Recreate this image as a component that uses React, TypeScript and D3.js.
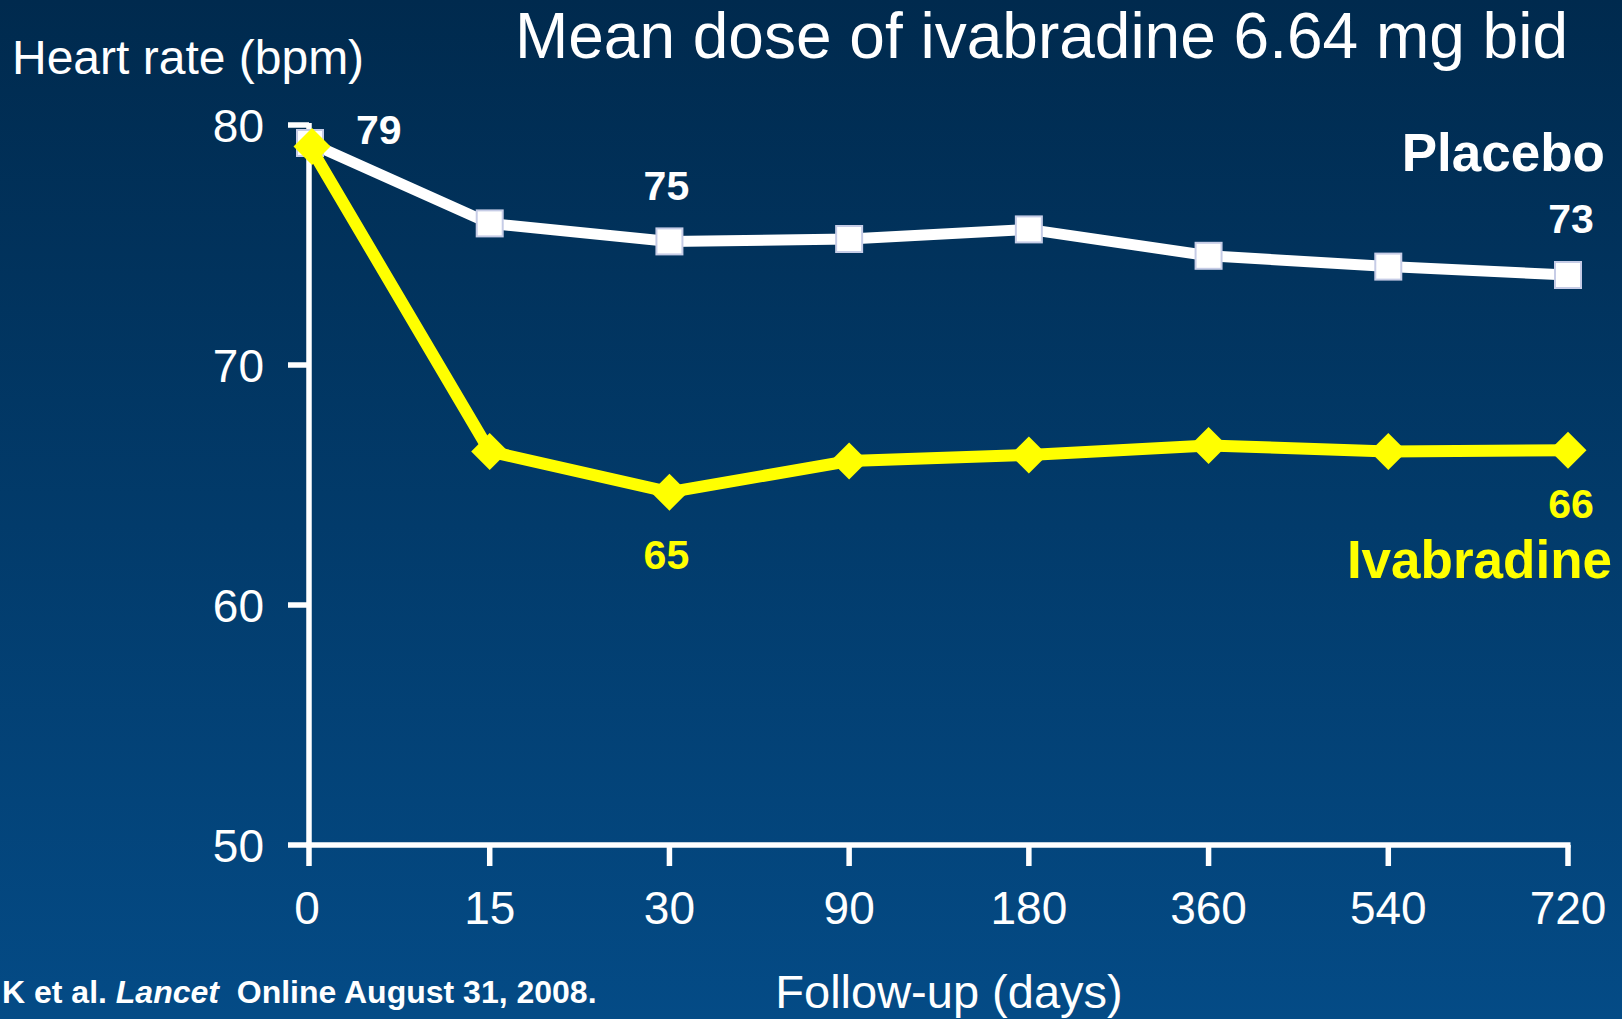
import React from "react";
import * as d3 from "d3";

const days = ["0", "15", "30", "90", "180", "360", "540", "720"];
const placebo = [79.25, 75.9, 75.15, 75.25, 75.65, 74.55, 74.1, 73.75];
const ivabradine = [79.1, 66.4, 64.7, 66.0, 66.25, 66.65, 66.4, 66.45];
const yTicks = [50, 60, 70, 80];

const W = 1622;
const H = 1019;
const FONT = "'Liberation Sans', Arial, Helvetica, sans-serif";

export default function App() {
  const x = d3.scalePoint<string>().domain(days).range([310, 1568]);
  const y = d3.scaleLinear().domain([50, 80]).range([845, 125]);
  const line = d3
    .line<number>()
    .x((_, i) => x(days[i]) as number)
    .y((d) => y(d));

  const axisX0 = 309;
  const axisX1 = x(days[days.length - 1]) as number;
  const diamond = (cx: number, cy: number, r: number) =>
    `M${cx},${cy - r}L${cx + r},${cy}L${cx},${cy + r}L${cx - r},${cy}Z`;

  const xi = (i: number) => x(days[i]) as number;

  return (
    <svg
      width={W}
      height={H}
      style={{ position: "absolute", left: 0, top: 0, display: "block" }}
      fontFamily={FONT}
    >
      <defs>
        <linearGradient id="bg" x1="0" y1="0" x2="0" y2="1">
          <stop offset="0" stopColor="#002a4e" />
          <stop offset="1" stopColor="#044b86" />
        </linearGradient>
      </defs>
      <rect x={0} y={0} width={W} height={H} fill="url(#bg)" />

      {/* Title */}
      <text x={1568} y={58} fill="#fff" fontSize={64} textAnchor="end">
        Mean dose of ivabradine 6.64 mg bid
      </text>
      <text x={12} y={74} fill="#fff" fontSize={48}>
        Heart rate (bpm)
      </text>

      {/* Axes */}
      <g stroke="#fff" strokeWidth={5.5} fill="none">
        <line x1={axisX0} y1={y(80) - 2} x2={axisX0} y2={y(50)} />
        <line x1={axisX0 - 3} y1={y(50)} x2={axisX1 + 2.5} y2={y(50)} />
        {yTicks.map((t) => (
          <line key={t} x1={axisX0 - 21} y1={y(t)} x2={axisX0} y2={y(t)} />
        ))}
        {days.map((d, i) => (
          <line
            key={d}
            x1={i === 0 ? axisX0 : (x(d) as number)}
            y1={y(50)}
            x2={i === 0 ? axisX0 : (x(d) as number)}
            y2={y(50) + 21}
          />
        ))}
      </g>
      {yTicks.map((t) => (
        <text
          key={t}
          x={264}
          y={y(t)}
          dy="0.36em"
          fill="#fff"
          fontSize={46}
          textAnchor="end"
        >
          {t}
        </text>
      ))}
      {days.map((d, i) => (
        <text
          key={d}
          x={(x(d) as number) - (i === 0 ? 3 : 0)}
          y={924}
          fill="#fff"
          fontSize={46}
          textAnchor="middle"
        >
          {d}
        </text>
      ))}
      <text x={949} y={1008} fill="#fff" fontSize={47} textAnchor="middle">
        Follow-up (days)
      </text>

      {/* Placebo */}
      <path d={line(placebo) || ""} fill="none" stroke="#fff" strokeWidth={11} />
      {placebo.map((v, i) => (
        <rect
          key={i}
          x={xi(i) - 13}
          y={y(v) - 13}
          width={26}
          height={26}
          fill="#fff"
          stroke="#c6cce6"
          strokeWidth={2}
        />
      ))}

      {/* Ivabradine */}
      <path d={line(ivabradine) || ""} fill="none" stroke="#ffff00" strokeWidth={12} />
      {ivabradine.map((v, i) => (
        <path key={i} d={diamond(xi(i) + (i === 0 ? 2 : 0), y(v), 18.5)} fill="#ffff00" />
      ))}

      {/* Value labels */}
      <g fontWeight="bold" fontSize={41}>
        <text x={xi(0) + 46} y={144} fill="#fff">
          79
        </text>
        <text x={xi(2) - 3} y={200} fill="#fff" textAnchor="middle">
          75
        </text>
        <text x={xi(7) + 3} y={233} fill="#fff" textAnchor="middle">
          73
        </text>
        <text x={xi(2) - 3} y={569} fill="#ffff00" textAnchor="middle">
          65
        </text>
        <text x={xi(7) + 3} y={518} fill="#ffff00" textAnchor="middle">
          66
        </text>
      </g>
      <text x={1605} y={171} fill="#fff" fontWeight="bold" fontSize={53} textAnchor="end">
        Placebo
      </text>
      <text x={1612} y={578} fill="#ffff00" fontWeight="bold" fontSize={53} textAnchor="end">
        Ivabradine
      </text>

      {/* Footnote */}
      <text x={2} y={1003} fill="#fff" fontWeight="bold" fontSize={32}>
        K et al. <tspan fontStyle="italic">Lancet</tspan>{"\u00a0 "}Online August 31, 2008.
      </text>
    </svg>
  );
}
